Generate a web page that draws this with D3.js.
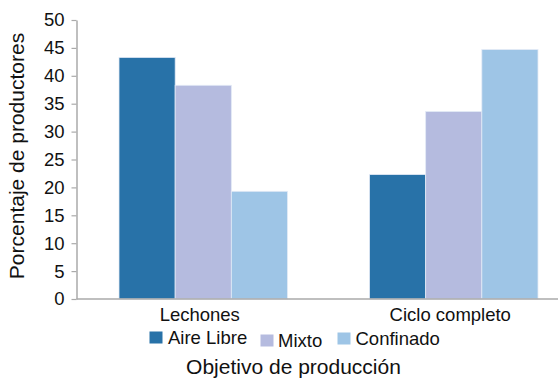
<!DOCTYPE html>
<html>
<head>
<meta charset="utf-8">
<script src="https://cdn.jsdelivr.net/npm/d3@7"></script>
<style>
  html, body { margin: 0; padding: 0; background: #fff; }
  svg { display: block; font-family: "Liberation Sans", Arial, sans-serif; }
</style>
</head>
<body>
<svg id="chart" width="558" height="378"></svg>
<script>
// Production objective categories and the share of producers per system
const categories = ["Lechones", "Ciclo completo"];
const seriesNames = ["Aire Libre", "Mixto", "Confinado"];
const aireLibre = [43.3, 22.3];
const mixto = [38.3, 33.6];
const confinado = [19.3, 44.7];
const yTicks = [0, 5, 10, 15, 20, 25, 30, 35, 40, 45, 50];
const colors = ["#2872a8", "#b5bbdf", "#9ec5e6"];

const seriesValues = [aireLibre, mixto, confinado];
const rows = categories.map((c, i) => ({
  category: c,
  values: seriesNames.map((s, j) => ({ series: s, value: seriesValues[j][i] }))
}));

const svg = d3.select("#chart");

const y = d3.scaleLinear().domain([0, 50]).range([299, 20]);
const x0 = d3.scaleBand().domain(categories).range([78, 579]).padding(0);
const x1 = d3.scaleBand().domain(seriesNames).range([41, 209.5]).padding(0);
const color = d3.scaleOrdinal().domain(seriesNames).range(colors);

// Bars
const groups = svg.append("g").selectAll("g")
  .data(rows).join("g")
  .attr("transform", d => `translate(${x0(d.category)},0)`);

groups.selectAll("rect")
  .data(d => d.values).join("rect")
  .attr("x", d => x1(d.series))
  .attr("y", d => y(d.value))
  .attr("width", x1.bandwidth())
  .attr("height", d => y(0) - y(d.value))
  .attr("fill", d => color(d.series))
  .attr("stroke", "#e3eaf6")
  .attr("stroke-width", 0.8);

// Y axis
const yAxis = svg.append("g")
  .attr("transform", "translate(76.5,0)")
  .call(d3.axisLeft(y).tickValues(yTicks).tickSize(5).tickPadding(7).tickSizeOuter(0));
yAxis.select(".domain").attr("stroke", "#aaa").attr("stroke-width", 1.5);
yAxis.selectAll(".tick line").attr("stroke", "#aaa").attr("stroke-width", 1.2);
yAxis.selectAll(".tick text")
  .attr("fill", "#111")
  .style("font-size", "18.5px")
  .style("font-family", "'Liberation Sans', Arial, sans-serif");

// X axis baseline running across the plot
svg.append("line")
  .attr("x1", 76.5).attr("x2", 558)
  .attr("y1", y(0)).attr("y2", y(0))
  .attr("stroke", "#aaa").attr("stroke-width", 1.5);

// Category labels
svg.append("g").selectAll("text")
  .data(categories).join("text")
  .attr("x", d => x0(d) + x0.bandwidth() / 2 - 3.5)
  .attr("y", 321)
  .attr("text-anchor", "middle")
  .attr("fill", "#111")
  .style("font-size", "18.5px")
  .text(d => d);

// Legend
const legendItems = [
  { name: "Aire Libre", sx: 149.5, sy: 331.5, tx: 168, ty: 344 },
  { name: "Mixto", sx: 260.5, sy: 334.5, tx: 278, ty: 347 },
  { name: "Confinado", sx: 337.5, sy: 332.5, tx: 355.5, ty: 345 }
];
const legend = svg.append("g");
legend.selectAll("rect")
  .data(legendItems).join("rect")
  .attr("x", d => d.sx).attr("y", d => d.sy)
  .attr("width", 13).attr("height", 12)
  .attr("fill", d => color(d.name));
legend.selectAll("text")
  .data(legendItems).join("text")
  .attr("x", d => d.tx).attr("y", d => d.ty)
  .attr("fill", "#111")
  .style("font-size", "18.5px")
  .text(d => d.name);

// Axis titles
svg.append("text")
  .attr("transform", "translate(23.5,156) rotate(-90)")
  .attr("text-anchor", "middle")
  .attr("fill", "#111")
  .style("font-size", "21px")
  .text("Porcentaje de productores");

svg.append("text")
  .attr("x", 293.5).attr("y", 374)
  .attr("text-anchor", "middle")
  .attr("fill", "#111")
  .style("font-size", "21px")
  .text("Objetivo de producción");
</script>
</body>
</html>
